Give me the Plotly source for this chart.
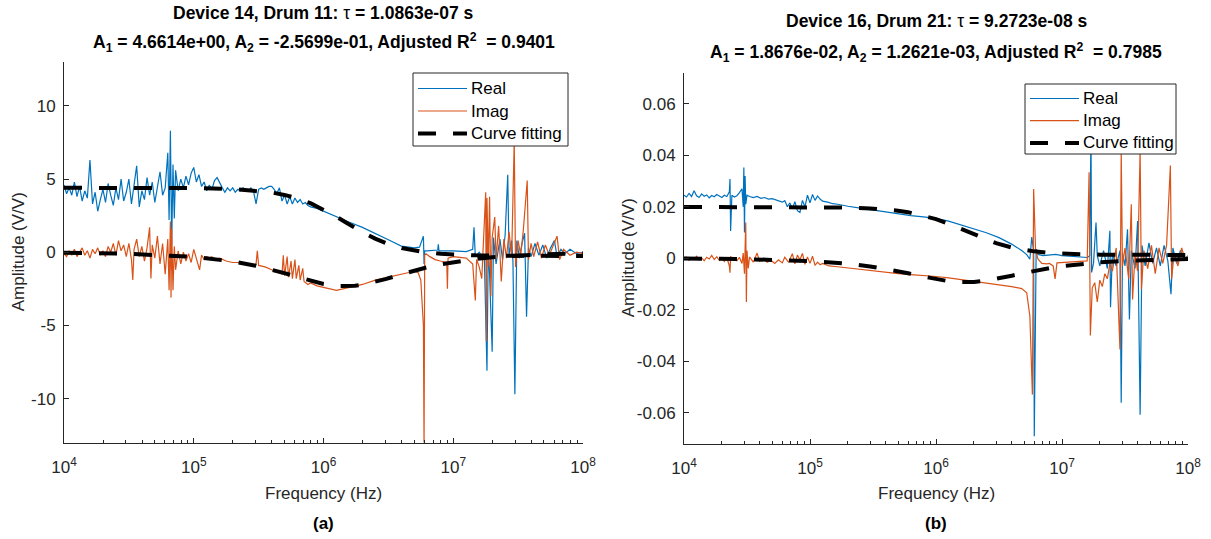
import numpy as np
import plotly.graph_objects as go

# ---------------------------------------------------------------------------
# Measured transfer function, panel (a): Device 14, Drum 11
# pairs of (log10 frequency in Hz, amplitude in V/V)
# ---------------------------------------------------------------------------
REAL_A = [
    (4.00, 4.6), (4.02, 4.0), (4.04, 4.4), (4.06, 3.9), (4.08, 4.8), (4.10, 3.8),
    (4.12, 4.5), (4.14, 3.5), (4.16, 4.2), (4.18, 3.7), (4.20, 6.3), (4.22, 3.3),
    (4.24, 4.1), (4.26, 2.8), (4.28, 3.6), (4.30, 4.3), (4.32, 3.4), (4.34, 4.7),
    (4.36, 3.9), (4.38, 3.2), (4.40, 4.4), (4.42, 3.6), (4.44, 5.0), (4.46, 3.5),
    (4.48, 4.1), (4.50, 5.0), (4.52, 3.3), (4.54, 4.6), (4.56, 5.9), (4.58, 3.1),
    (4.60, 4.2), (4.62, 3.6), (4.64, 5.1), (4.66, 3.9), (4.68, 4.8), (4.70, 3.4),
    (4.72, 4.5), (4.74, 5.5), (4.76, 3.9), (4.78, 4.4), (4.80, 6.8), (4.81, 2.2),
    (4.82, 8.3), (4.83, 0.5), (4.84, 6.0), (4.85, 2.3), (4.86, 5.6), (4.88, 4.2),
    (4.90, 5.0), (4.92, 4.4), (4.94, 5.2), (4.96, 4.6), (4.98, 5.4), (5.00, 5.8),
    (5.02, 4.8), (5.04, 5.3), (5.06, 4.5), (5.08, 4.8), (5.10, 4.2), (5.12, 4.6),
    (5.14, 4.3), (5.16, 4.9), (5.18, 5.1), (5.20, 4.7), (5.22, 4.4), (5.24, 4.1),
    (5.26, 4.4), (5.28, 4.2), (5.30, 4.4), (5.32, 4.1), (5.34, 4.3), (5.36, 4.2),
    (5.38, 4.4), (5.40, 4.3), (5.42, 4.2), (5.44, 4.4), (5.46, 4.2), (5.48, 3.3),
    (5.50, 4.3), (5.52, 4.4), (5.54, 4.3), (5.56, 4.4), (5.58, 4.5), (5.60, 4.5),
    (5.62, 4.3), (5.64, 4.0), (5.66, 4.4), (5.68, 3.5), (5.70, 3.9), (5.72, 3.3),
    (5.74, 3.8), (5.76, 3.3), (5.78, 3.7), (5.80, 3.4), (5.82, 3.6), (5.84, 3.3),
    (5.86, 3.4), (5.88, 3.2), (5.90, 3.1), (5.95, 3.0), (6.00, 2.8), (6.10, 2.45),
    (6.20, 2.05), (6.30, 1.7), (6.40, 1.25), (6.50, 0.85), (6.60, 0.42), (6.70, 0.3),
    (6.74, 0.35), (6.76, 0.9), (6.77, 1.1), (6.775, -0.8), (6.78, 0.1), (6.80, 0.1),
    (6.85, 0.1), (6.88, 0.15), (6.885, 0.55), (6.89, 0.1), (7.00, 0.1), (7.10, 0.05),
    (7.15, 0.2), (7.16, 1.7), (7.17, -0.3), (7.20, 0.0), (7.24, -0.5), (7.26, -8.1),
    (7.27, 0.5), (7.28, -1.5), (7.30, -6.8), (7.31, 1.0), (7.33, -0.8), (7.36, 0.9),
    (7.38, -0.5), (7.40, 1.2), (7.42, 5.3), (7.43, -0.2), (7.45, 0.8), (7.46, -0.6),
    (7.475, -9.7), (7.49, 0.8), (7.51, -0.4), (7.53, 0.6), (7.55, 1.3), (7.565, -4.4),
    (7.58, 0.3), (7.60, -0.3), (7.63, 0.6), (7.66, -0.2), (7.69, 0.5), (7.72, -0.4),
    (7.75, 0.3), (7.78, 0.8), (7.80, -0.3), (7.83, 0.2), (7.86, -0.1), (7.90, 0.2),
    (7.95, -0.1), (8.00, 0.0),
]

IMAG_A = [
    (4.00, -0.1), (4.02, -0.3), (4.04, 0.1), (4.06, -0.2), (4.08, 0.2), (4.10, -0.3),
    (4.12, 0.0), (4.14, 0.3), (4.16, -0.2), (4.18, 0.1), (4.20, -0.4), (4.22, 0.2),
    (4.24, -0.1), (4.26, 0.3), (4.28, -0.2), (4.30, 0.1), (4.32, -0.3), (4.34, 0.4),
    (4.36, 0.0), (4.38, 0.6), (4.40, -0.2), (4.42, 0.8), (4.44, 0.1), (4.46, 0.5),
    (4.48, -0.3), (4.50, 0.6), (4.52, -0.5), (4.53, -1.9), (4.54, 0.2), (4.56, 0.9),
    (4.58, -0.3), (4.60, 0.4), (4.62, -0.6), (4.64, 0.3), (4.66, 1.7), (4.67, -1.8),
    (4.68, 0.5), (4.70, -0.4), (4.72, 1.1), (4.74, -0.8), (4.76, 0.6), (4.78, -1.5),
    (4.80, 0.9), (4.81, -2.6), (4.82, 2.1), (4.825, -3.1), (4.83, 1.6), (4.84, -2.6),
    (4.85, 0.4), (4.86, -1.2), (4.88, 0.1), (4.90, -0.8), (4.92, 0.0), (4.94, -0.6),
    (4.96, -0.1), (4.98, -0.7), (5.00, 0.2), (5.02, -0.5), (5.045, -1.2), (5.06, -0.2),
    (5.08, -0.5), (5.10, -0.3), (5.12, -0.4), (5.14, -0.3), (5.16, -0.5), (5.20, -0.4),
    (5.25, -0.6), (5.30, -0.7), (5.35, -0.7), (5.40, -0.8), (5.45, -0.9), (5.48, -0.8),
    (5.49, 0.1), (5.50, -0.9), (5.55, -1.0), (5.60, -1.2), (5.65, -1.4), (5.68, -1.5),
    (5.69, -0.2), (5.70, -1.6), (5.72, -0.3), (5.73, -1.7), (5.75, -0.6), (5.76, -1.8),
    (5.78, -0.5), (5.79, -1.8), (5.81, -0.9), (5.82, -1.9), (5.84, -1.1), (5.85, -2.0),
    (5.88, -2.2), (5.90, -2.1), (5.95, -2.3), (6.00, -2.4), (6.05, -2.5), (6.10, -2.6),
    (6.15, -2.5), (6.20, -2.4), (6.30, -2.2), (6.40, -1.9), (6.50, -1.7), (6.60, -1.45),
    (6.70, -1.3), (6.73, -1.4), (6.75, -1.9), (6.77, -5.0), (6.775, -13.5), (6.78, -0.2),
    (6.79, -0.1), (6.82, -0.3), (6.86, -0.5), (6.90, -0.6), (6.95, -0.7), (6.955, -2.5),
    (6.96, -0.4), (7.00, -0.3), (7.05, -0.35), (7.10, -0.4), (7.15, -0.8), (7.17, -3.3),
    (7.18, -0.5), (7.20, -1.0), (7.22, -1.8), (7.24, 1.5), (7.25, 4.1), (7.255, -6.1),
    (7.26, 3.7), (7.27, -1.0), (7.28, 3.8), (7.29, -3.0), (7.30, 1.0), (7.32, 2.4),
    (7.33, -0.5), (7.35, 1.8), (7.37, -2.0), (7.39, 0.9), (7.41, -0.4), (7.43, 1.4),
    (7.45, -0.3), (7.47, 7.6), (7.48, -1.0), (7.50, 0.8), (7.52, -0.2), (7.54, 1.5),
    (7.57, 4.9), (7.58, -0.5), (7.60, 0.6), (7.62, -0.3), (7.65, 0.7), (7.68, -0.4),
    (7.71, 0.5), (7.74, -0.2), (7.77, 0.4), (7.80, 1.1), (7.82, -0.5), (7.85, 0.2),
    (7.90, -0.2), (7.95, 0.0), (8.00, -0.1),
]

# ---------------------------------------------------------------------------
# Measured transfer function, panel (b): Device 16, Drum 21
# ---------------------------------------------------------------------------
REAL_B = [
    (4.00, 0.0245), (4.02, 0.0238), (4.04, 0.0252), (4.06, 0.0240), (4.08, 0.0262),
    (4.10, 0.0243), (4.12, 0.0236), (4.14, 0.0250), (4.16, 0.0241), (4.18, 0.0246),
    (4.20, 0.0235), (4.22, 0.0244), (4.24, 0.0239), (4.26, 0.0248), (4.28, 0.0242),
    (4.30, 0.0236), (4.32, 0.0245), (4.34, 0.0240), (4.36, 0.0258), (4.365, 0.0308),
    (4.37, 0.0106), (4.38, 0.0245), (4.40, 0.0238), (4.42, 0.0243), (4.44, 0.0255),
    (4.46, 0.0270), (4.47, 0.0200), (4.475, 0.0353), (4.48, 0.0100), (4.485, 0.0320),
    (4.49, 0.0210), (4.50, 0.0245), (4.52, 0.0240), (4.55, 0.0236), (4.58, 0.0240),
    (4.61, 0.0233), (4.64, 0.0236), (4.67, 0.0230), (4.70, 0.0232), (4.73, 0.0226),
    (4.76, 0.0222), (4.78, 0.0218), (4.80, 0.0224), (4.82, 0.0200), (4.84, 0.0215),
    (4.86, 0.0192), (4.88, 0.0220), (4.90, 0.0185), (4.92, 0.0178), (4.94, 0.0225),
    (4.96, 0.0200), (4.98, 0.0245), (5.00, 0.0215), (5.02, 0.0248), (5.04, 0.0225),
    (5.06, 0.0242), (5.08, 0.0230), (5.10, 0.0222), (5.14, 0.0218), (5.18, 0.0212),
    (5.22, 0.0210), (5.26, 0.0206), (5.30, 0.0202), (5.40, 0.0195), (5.50, 0.0188),
    (5.60, 0.0180), (5.70, 0.0172), (5.80, 0.0166), (5.90, 0.0161), (6.00, 0.0155),
    (6.10, 0.0144), (6.20, 0.0130), (6.30, 0.0115), (6.40, 0.0099), (6.50, 0.0080),
    (6.60, 0.0055), (6.68, 0.0030), (6.72, 0.0014), (6.745, -0.0004), (6.76, 0.0082),
    (6.775, 0.0030), (6.78, -0.0692), (6.795, 0.0035), (6.81, 0.0015), (6.85, 0.0010),
    (6.90, 0.0012), (6.95, 0.0015), (7.00, 0.0010), (7.05, 0.0008), (7.10, 0.0006),
    (7.15, 0.0004), (7.20, 0.0003), (7.22, 0.0010), (7.23, 0.0500), (7.235, -0.0055),
    (7.25, -0.0020), (7.27, 0.0139), (7.28, 0.0010), (7.30, -0.0030), (7.33, 0.0030),
    (7.36, -0.0040), (7.38, 0.0107), (7.385, -0.0190), (7.40, 0.0020), (7.43, -0.0030),
    (7.46, 0.0030), (7.47, -0.0562), (7.48, 0.0020), (7.50, -0.0030), (7.52, 0.0113),
    (7.535, -0.0238), (7.55, 0.0030), (7.58, -0.0040), (7.60, 0.0145), (7.62, -0.0608),
    (7.635, 0.0050), (7.66, -0.0030), (7.69, 0.0060), (7.72, -0.0020), (7.75, 0.0040),
    (7.78, -0.0030), (7.81, 0.0050), (7.84, -0.0010), (7.865, -0.0140), (7.88, 0.0040),
    (7.91, -0.0020), (7.94, 0.0030), (7.97, 0.0000), (8.00, 0.0009),
]

IMAG_B = [
    (4.00, -0.0002), (4.02, 0.0005), (4.04, -0.0008), (4.06, 0.0003), (4.08, -0.0004),
    (4.10, 0.0008), (4.12, -0.0006), (4.14, 0.0002), (4.16, -0.0010), (4.18, 0.0004),
    (4.20, -0.0003), (4.22, 0.0011), (4.24, -0.0005), (4.26, 0.0006), (4.28, -0.0008),
    (4.30, 0.0002), (4.32, -0.0012), (4.34, 0.0003), (4.36, -0.0030), (4.365, -0.0056),
    (4.37, 0.0008), (4.38, -0.0006), (4.40, 0.0002), (4.42, -0.0010), (4.44, 0.0004),
    (4.46, -0.0020), (4.47, 0.0020), (4.48, -0.0060), (4.49, 0.0139), (4.495, -0.0170),
    (4.50, 0.0030), (4.51, -0.0040), (4.52, 0.0005), (4.55, -0.0015), (4.58, 0.0020),
    (4.60, -0.0012), (4.63, 0.0000), (4.66, -0.0016), (4.69, -0.0008), (4.72, -0.0020),
    (4.75, -0.0006), (4.78, -0.0018), (4.80, 0.0004), (4.83, -0.0016), (4.86, 0.0018),
    (4.88, -0.0022), (4.90, 0.0012), (4.92, -0.0006), (4.94, 0.0019), (4.96, -0.0024),
    (4.98, 0.0005), (5.00, -0.0020), (5.02, 0.0008), (5.04, -0.0028), (5.06, -0.0015),
    (5.08, -0.0025), (5.10, -0.0020), (5.15, -0.0030), (5.20, -0.0032), (5.25, -0.0035),
    (5.30, -0.0038), (5.40, -0.0044), (5.50, -0.0050), (5.60, -0.0056), (5.70, -0.0060),
    (5.80, -0.0064), (5.90, -0.0067), (6.00, -0.0071), (6.10, -0.0076), (6.20, -0.0083),
    (6.30, -0.0089), (6.40, -0.0095), (6.50, -0.0102), (6.60, -0.0110), (6.68, -0.0118),
    (6.72, -0.0134), (6.745, -0.0225), (6.765, -0.0530), (6.775, 0.0269), (6.79, 0.0035),
    (6.81, -0.0004), (6.84, -0.0020), (6.88, -0.0022), (6.90, -0.0020), (6.93, -0.0030),
    (6.945, -0.0080), (6.96, -0.0018), (7.00, -0.0017), (7.05, -0.0016), (7.10, -0.0015),
    (7.15, -0.0013), (7.20, -0.0010), (7.215, 0.0334), (7.225, -0.0300), (7.24, -0.0115),
    (7.26, -0.0095), (7.28, -0.0170), (7.30, -0.0085), (7.32, -0.0110), (7.34, -0.0060),
    (7.36, -0.0080), (7.38, -0.0020), (7.40, -0.0050), (7.43, 0.0040), (7.46, -0.0355),
    (7.47, 0.0420), (7.48, -0.0030), (7.50, 0.0040), (7.53, -0.0080), (7.55, 0.0210),
    (7.56, -0.0160), (7.58, 0.0020), (7.60, -0.0050), (7.62, 0.0420), (7.63, -0.0120),
    (7.65, 0.0030), (7.68, -0.0040), (7.71, 0.0050), (7.74, -0.0060), (7.77, 0.0040),
    (7.80, -0.0020), (7.83, 0.0050), (7.86, 0.0360), (7.87, -0.0080), (7.89, 0.0020),
    (7.92, -0.0030), (7.95, 0.0040), (7.98, -0.0010), (8.00, 0.0010),
]

# ---------------------------------------------------------------------------
# Fitted single-pole response sampled on a common frequency grid (Hz)
# ---------------------------------------------------------------------------
FIT_FREQ = [1e4, 3e4, 1e5, 2e5, 3e5, 4e5, 5e5, 6e5, 8e5, 1e6, 1.25e6, 1.5e6, 1.75e6,
            2e6, 2.5e6, 3e6, 4e6, 5e6, 6e6, 8e6, 1e7, 1.5e7, 2e7, 3e7, 5e7, 1e8]
FIT_A_REAL = [4.404, 4.403, 4.383, 4.319, 4.217, 4.081, 3.918, 3.735, 3.334, 2.923,
              2.441, 2.019, 1.664, 1.371, 0.935, 0.641, 0.294, 0.112, 0.005, -0.106,
              -0.159, -0.213, -0.232, -0.246, -0.253, -0.256]
FIT_A_IMAG = [-0.032, -0.095, -0.317, -0.625, -0.916, -1.184, -1.425, -1.635, -1.961,
              -2.171, -2.302, -2.330, -2.294, -2.222, -2.033, -1.838, -1.506, -1.258,
              -1.074, -0.826, -0.669, -0.451, -0.340, -0.227, -0.137, -0.068]
FIT_B_REAL = [0.01994, 0.01993, 0.01988, 0.01969, 0.01938, 0.01898, 0.01848, 0.01791,
              0.01661, 0.01521, 0.01347, 0.01185, 0.01042, 0.00918, 0.00725, 0.00587,
              0.00417, 0.00323, 0.00268, 0.00208, 0.00180, 0.00150, 0.00140, 0.00132,
              0.00128, 0.00127]
FIT_B_IMAG = [-0.00011, -0.00033, -0.00108, -0.00215, -0.00317, -0.00413, -0.00502,
              -0.00582, -0.00715, -0.00812, -0.00889, -0.00925, -0.00934, -0.00923,
              -0.00872, -0.00805, -0.00677, -0.00574, -0.00494, -0.00383, -0.00311,
              -0.00211, -0.00159, -0.00107, -0.00064, -0.00032]

TITLES = [
    ("<b>Device 14, Drum 11: </b>τ<b> = 1.0863e-07 s</b>",
     "<b>A<sub>1</sub> = 4.6614e+00, A<sub>2</sub> = -2.5699e-01, Adjusted R<sup>2</sup>  = 0.9401</b>"),
    ("<b>Device 16, Drum 21: </b>τ<b> = 9.2723e-08 s</b>",
     "<b>A<sub>1</sub> = 1.8676e-02, A<sub>2</sub> = 1.2621e-03, Adjusted R<sup>2</sup>  = 0.7985</b>"),
]
PANEL_TAGS = ["(a)", "(b)"]
SERIES_NAMES = ["Real", "Imag", "Curve fitting"]
X_TICKS = [1e4, 1e5, 1e6, 1e7, 1e8]
X_TICK_TEXT = ["10<sup>4</sup>", "10<sup>5</sup>", "10<sup>6</sup>", "10<sup>7</sup>", "10<sup>8</sup>"]
X_MINOR = [m * 10 ** e for e in range(4, 8) for m in range(2, 10)]
Y_TICKS_A = [-10, -5, 0, 5, 10]
Y_TICK_TEXT_A = ["-10", "-5", "0", "5", "10"]
Y_TICKS_B = [-0.06, -0.04, -0.02, 0, 0.02, 0.04, 0.06]
Y_TICK_TEXT_B = ["-0.06", "-0.04", "-0.02", "0", "0.02", "0.04", "0.06"]

BLUE = "#0072BD"
ORANGE = "#D95319"
AX = "#262626"
FONT = "Liberation Sans, Arial, Helvetica, sans-serif"
FIT_DASH = "18px,17px"
LABEL_SIZE = 17
TITLE_SIZE = 17.5
W, H = 1211, 539


def unpack(pairs):
    lf = np.array([p[0] for p in pairs])
    return 10.0 ** lf, np.array([p[1] for p in pairs])


def px(x):
    return x / W


def py(y):
    return 1 - y / H


fig = go.Figure()

panels = [
    dict(real=REAL_A, imag=IMAG_A, fr=FIT_A_REAL, fi=FIT_A_IMAG, xa="x", ya="y"),
    dict(real=REAL_B, imag=IMAG_B, fr=FIT_B_REAL, fi=FIT_B_IMAG, xa="x2", ya="y2"),
]

for p in panels:
    f, v = unpack(p["real"])
    fig.add_trace(go.Scatter(x=f, y=v, mode="lines", name="Real", showlegend=False,
                             line=dict(color=BLUE, width=1.2),
                             xaxis=p["xa"], yaxis=p["ya"]))
    f, v = unpack(p["imag"])
    fig.add_trace(go.Scatter(x=f, y=v, mode="lines", name="Imag", showlegend=False,
                             line=dict(color=ORANGE, width=1.2),
                             xaxis=p["xa"], yaxis=p["ya"]))
    fx = list(FIT_FREQ) + [None] + list(FIT_FREQ)
    fy = list(p["fr"]) + [None] + list(p["fi"])
    fig.add_trace(go.Scatter(x=fx, y=fy, mode="lines", name="Curve fitting",
                             showlegend=False, connectgaps=False,
                             line=dict(color="black", width=4, dash=FIT_DASH),
                             xaxis=p["xa"], yaxis=p["ya"]))

# axes boxes in pixels: (left, right, top, bottom)
geom = [(64, 583, 62, 442.5), (684, 1188, 73, 443.5)]

common_x = dict(type="log", range=[4, 8], tickmode="array", tickvals=X_TICKS,
                ticktext=X_TICK_TEXT, ticks="inside", ticklen=5, tickcolor=AX,
                showline=True, linecolor=AX, linewidth=1, showgrid=False, zeroline=False,
                automargin=False,
                tickfont=dict(family=FONT, size=LABEL_SIZE, color=AX),
                minor=dict(ticks="inside", ticklen=3, tickcolor=AX, tickvals=X_MINOR,
                           showgrid=False),
                ticklabelstandoff=9)
common_y = dict(ticks="inside", ticklen=5, tickcolor=AX, showline=True, linecolor=AX,
                linewidth=1, showgrid=False, zeroline=False, automargin=False,
                tickmode="array", ticklabelstandoff=4,
                tickfont=dict(family=FONT, size=LABEL_SIZE, color=AX))

g0, g1 = geom
fig.update_layout(
    xaxis=dict(common_x, domain=[px(g0[0]), px(g0[1])], anchor="y"),
    yaxis=dict(common_y, domain=[py(g0[3]), py(g0[2])], anchor="x", range=[-13, 13],
               tickvals=Y_TICKS_A, ticktext=Y_TICK_TEXT_A),
    xaxis2=dict(common_x, domain=[px(g1[0]), px(g1[1])], anchor="y2"),
    yaxis2=dict(common_y, domain=[py(g1[3]), py(g1[2])], anchor="x2",
                range=[-0.072, 0.072], tickvals=Y_TICKS_B, ticktext=Y_TICK_TEXT_B),
)

# MATLAB-style legend boxes: (left, right, top, bottom, first row y, row step)
legend_boxes = [(413, 568, 73, 146, 88.5, 22.5), (1025, 1176, 84, 154, 98.5, 22.2)]
legend_styles = [dict(color=BLUE, width=1.2, dash="solid"),
                 dict(color=ORANGE, width=1.2, dash="solid"),
                 dict(color="black", width=4, dash=FIT_DASH)]

shapes = []
annotations = []
for (l, r, t, b, y0, dy) in legend_boxes:
    shapes.append(dict(type="rect", xref="paper", yref="paper", x0=px(l), x1=px(r),
                       y0=py(b), y1=py(t), fillcolor="white",
                       line=dict(color=AX, width=1), layer="above"))
    for i, (name, st) in enumerate(zip(SERIES_NAMES, legend_styles)):
        yy = py(y0 + i * dy)
        shapes.append(dict(type="line", xref="paper", yref="paper", x0=px(l + 5),
                           x1=px(l + 54), y0=yy, y1=yy, line=st, layer="above"))
        annotations.append(dict(text=name, x=px(l + 56), y=yy, xref="paper",
                                yref="paper", showarrow=False, xanchor="left",
                                yanchor="middle",
                                font=dict(family=FONT, size=LABEL_SIZE, color="black")))

title_rows = [(13, 43), (21, 52)]
for (x0, x1, y0, y1), (l1, l2), (r1, r2), tag in zip(geom, TITLES, title_rows, PANEL_TAGS):
    cx = px((x0 + x1) / 2)
    annotations.append(dict(text=l1, x=cx, y=py(r1), xref="paper", yref="paper",
                            showarrow=False, xanchor="center", yanchor="middle",
                            font=dict(family=FONT, size=TITLE_SIZE, color="black")))
    annotations.append(dict(text=l2, x=cx, y=py(r2), xref="paper", yref="paper",
                            showarrow=False, xanchor="center", yanchor="middle",
                            font=dict(family=FONT, size=TITLE_SIZE, color="black")))
    annotations.append(dict(text="Frequency (Hz)", x=cx, y=py(493), xref="paper",
                            yref="paper", showarrow=False, xanchor="center",
                            yanchor="middle",
                            font=dict(family=FONT, size=LABEL_SIZE, color=AX)))
    annotations.append(dict(text="<b>" + tag + "</b>", x=cx, y=py(523), xref="paper",
                            yref="paper", showarrow=False, xanchor="center",
                            yanchor="middle",
                            font=dict(family=FONT, size=LABEL_SIZE, color="black")))
    annotations.append(dict(text="Amplitude (V/V)", x=px(18 if x0 < 100 else 628),
                            y=py((y0 + y1) / 2), xref="paper", yref="paper",
                            showarrow=False, textangle=-90, xanchor="center",
                            yanchor="middle",
                            font=dict(family=FONT, size=LABEL_SIZE, color=AX)))

fig.update_layout(
    width=W, height=H, autosize=False,
    margin=dict(l=0, r=0, t=0, b=0),
    paper_bgcolor="white", plot_bgcolor="white",
    annotations=annotations, shapes=shapes,
    showlegend=False,
)

fig.write_html("out.html")
